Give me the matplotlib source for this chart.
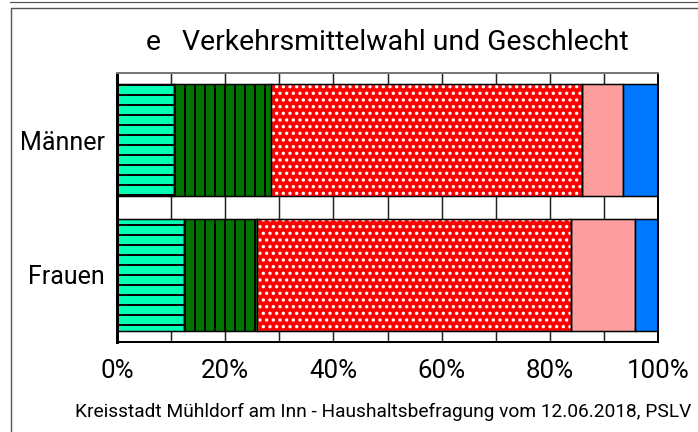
import numpy as np
import matplotlib
matplotlib.use('Agg')
import matplotlib.pyplot as plt
from matplotlib.lines import Line2D

# shares in percent
groups = ['Männer', 'Frauen']
teal = [10.5, 12.4]
green = [18.0, 13.5]
red = [57.4, 58.0]
pink = [7.7, 11.8]
blue = [6.4, 4.3]
xticks = [0, 20, 40, 60, 80, 100]
xtick_labels = ['0%', '20%', '40%', '60%', '80%', '100%']
title = 'e   Verkehrsmittelwahl und Geschlecht'
footer = 'Kreisstadt Mühldorf am Inn - Haushaltsbefragung vom 12.06.2018, PSLV'

plt.rcParams['font.family'] = ['Roboto', 'DejaVu Sans']
plt.rcParams['hatch.linewidth'] = 1.2

W, H, DPI = 698, 432, 120
fig = plt.figure(figsize=(W / DPI, H / DPI), dpi=DPI)
px = 72 / DPI  # one pixel in points

# outer frame lines
fig.add_artist(Line2D([10 / W, 1], [1 - 1.5 / H] * 2, color='#555555', lw=1.2 * px))
fig.add_artist(Line2D([11 / W, 11 / W, 1], [0, 1 - 8 / H, 1 - 8 / H], color='#555555', lw=1.4 * px))

ax = fig.add_axes([117 / W, 90 / H, 541 / W, 269 / H])
ypos = np.arange(len(groups))
h = 0.836

segments = [
    (teal, '#00FFB4', 'black', '--'),
    (green, '#007400', 'black', '||'),
    (red, '#FF0000', 'white', '...'),
    (pink, '#FF9E9E', 'black', None),
    (blue, '#0078FF', 'black', None),
]
left = np.zeros(len(groups))
for vals, fc, ec, hatch in segments:
    vals = np.array(vals)
    ax.barh(ypos, vals, left=left, height=h, color=fc, edgecolor=ec,
            hatch=hatch, linewidth=1.2 * px if ec == 'white' else 1.5 * px, zorder=2)
    if ec == 'white':
        # black outline on top of the white-dotted bar
        ax.barh(ypos, vals, left=left, height=h, fill=False, edgecolor='black',
                linewidth=1.5 * px, zorder=3)
    left += vals

ax.set_xlim(0, 100)
ax.set_ylim(1.5, -0.5)
ax.set_xticks(np.arange(0, 101, 10), minor=True)
ax.set_xticks(xticks)
ax.set_xticklabels(xtick_labels, fontsize=15.5)
ax.set_yticks(ypos)
ax.set_yticklabels(groups, fontsize=15)
ax.tick_params(axis='both', which='both', length=0)
ax.tick_params(axis='x', pad=10)
ax.tick_params(axis='y', pad=7.5)
ax.grid(True, axis='x', which='both', color='#222222', lw=1.5 * px, zorder=0)
ax.set_axisbelow(True)
for s in ax.spines.values():
    s.set_color('black')
    s.set_linewidth(2 * px)
ax.spines['top'].set_color('#777777')
ax.spines['left'].set_linewidth(3 * px)

fig.text(387 / W, 1 - 42 / H, title, ha='center', va='center', fontsize=17)
fig.text(383 / W, 1 - 412 / H, footer, ha='center', va='center', fontsize=11.5)

fig.savefig('out.png', dpi=DPI)
